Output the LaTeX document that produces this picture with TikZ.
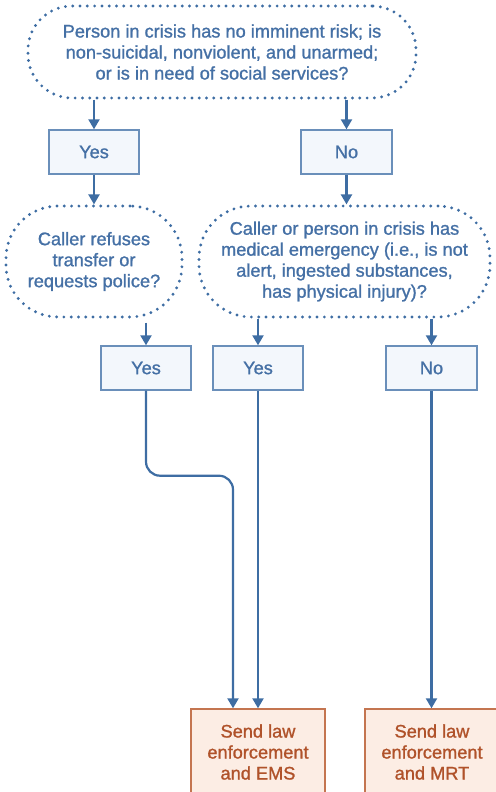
\documentclass[tikz,border=0pt]{standalone}
\usepackage{fontspec}
\newfontfamily\lblfont{Liberation Sans}[FakeBold=1.2]
\usetikzlibrary{arrows.meta}
\definecolor{lineblue}{HTML}{3E6DA3}
\definecolor{textblue}{HTML}{4570A5}
\definecolor{boxedge}{HTML}{6A8FBA}
\definecolor{boxfill}{HTML}{F3F7FC}
\definecolor{orangetext}{HTML}{B0522A}
\definecolor{orangeedge}{HTML}{C47550}
\definecolor{orangefill}{HTML}{FCEDE4}
\tikzset{
  labelfont/.style={font=\lblfont\fontsize{18.2}{21}\selectfont},
  question/.style={draw=lineblue, line width=3.2pt, line cap=round,
    dash pattern=on 0pt off 7.3pt, align=center, inner sep=0pt,
    text=textblue, labelfont},
  answer/.style={draw=boxedge, fill=boxfill, line width=1.4pt,
    minimum width=90pt, minimum height=44pt, inner sep=0pt,
    text=textblue, labelfont},
  action/.style={draw=orangeedge, fill=orangefill, line width=1.4pt,
    minimum width=134pt, minimum height=86pt, inner sep=0pt, align=center,
    text=orangetext, labelfont},
  arr/.style={draw=lineblue, line width=2.2pt,
    -{Triangle[width=11pt,length=10pt]}},
}
\begin{document}
\begin{tikzpicture}[x=1pt,y=-1pt]
\useasboundingbox (0,0) rectangle (495,792);

% decision nodes
\node[question, rounded corners=44pt, minimum width=388pt, minimum height=92pt]
  (q1) at (222,52) {Person in crisis has no imminent risk; is\\
  non-suicidal, nonviolent, and unarmed;\\ or is in need of social services?};
\node[question, rounded corners=52pt, minimum width=176pt, minimum height=111pt]
  (q2) at (94,261.5) {Caller refuses\\ transfer or\\ requests police?};
\node[question, rounded corners=52pt, minimum width=291pt, minimum height=111pt]
  (q3) at (344.5,261.5) {Caller or person in crisis has\\
  medical emergency (i.e., is not\\ alert, ingested substances,\\
  has physical injury)?};

% answers
\node[answer] (y1) at (94,152) {Yes};
\node[answer, minimum width=91pt] (n1) at (346.5,152) {No};
\node[answer] (y2) at (146,368) {Yes};
\node[answer] (y3) at (258,368) {Yes};
\node[answer, minimum width=91pt] (n2) at (431.5,368) {No};

% outcomes
\node[action] (ems) at (258,752) {Send law\\ enforcement\\ and EMS};
\node[action] (mrt) at (432,752) {Send law\\ enforcement\\ and MRT};

% connectors
\draw[arr] (q1.south -| y1.north) -- (y1.north);
\draw[arr] (q1.south -| n1.north) -- (n1.north);
\draw[arr] (y1.south) -- (q2.north);
\draw[arr] (n1.south) -- (n1.south |- q3.north);
\draw[arr] ([yshift=-4pt]q2.south -| y2.north) -- (y2.north);
\draw[arr] (q3.south -| y3.north) -- (y3.north);
\draw[arr] (q3.south -| n2.north) -- (n2.north);
\draw[arr, rounded corners=14pt] (y2.south) -- ++(0,85) -| ([xshift=-25pt]ems.north);
\draw[arr] (y3.south) -- (ems.north);
\draw[arr] (n2.south) -- (n2.south |- mrt.north);
\end{tikzpicture}
\end{document}
